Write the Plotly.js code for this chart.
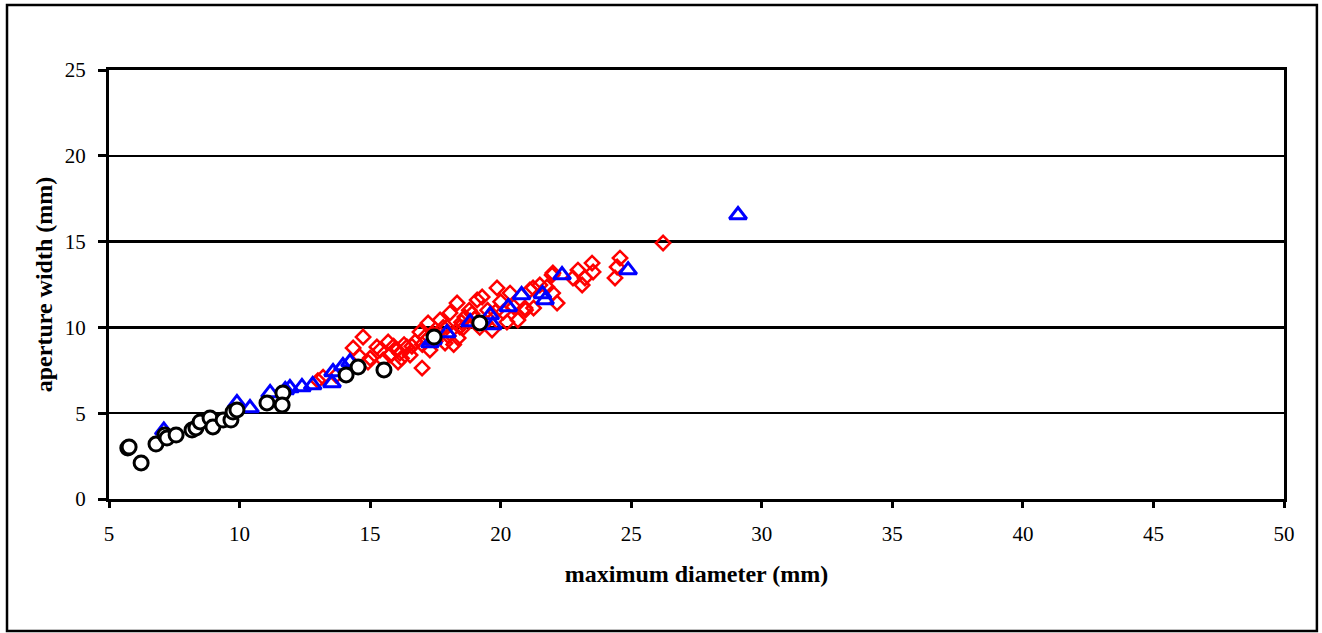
<!DOCTYPE html>
<html>
<head>
<meta charset="utf-8">
<script src="https://cdn.plot.ly/plotly-3.0.1.min.js"></script>
<style>
  html, body { margin: 0; padding: 0; background: #fff; }
  #chart { width: 1322px; height: 633px; }
</style>
</head>
<body>
<div id="chart"></div>
<script>
// Maximum diameter (mm) vs aperture width (mm), three groups of shells
const diamondX = [13.0, 13.2, 13.7, 14.35, 14.6, 14.73, 14.92, 15.0, 15.26, 15.38, 15.5, 15.69, 15.76, 15.9,
  16.03, 16.14, 16.07, 16.2, 16.3, 16.41, 16.53, 16.6, 16.72, 16.91, 16.99, 17.0, 17.1, 17.22, 17.29, 17.4,
  17.5, 17.68, 17.8, 17.87, 17.94, 18.0, 18.06, 18.2, 18.33, 18.37, 18.44, 18.5, 18.56, 18.63, 18.8, 18.9,
  19.0, 19.1, 19.2, 19.29, 19.4, 19.5, 19.67, 19.8, 19.86, 20.0, 20.1, 20.24, 20.36, 20.5, 20.66, 20.93,
  20.95, 21.12, 21.24, 21.26, 21.5, 21.77, 21.97, 21.99, 22.0, 22.16, 22.77, 22.96, 23.12, 23.23, 23.5,
  23.54, 24.38, 24.46, 24.57, 26.22];
const diamondY = [6.9, 7.1, 7.2, 8.8, 8.3, 9.44, 7.98, 8.2, 8.86, 8.68, 8.1, 9.15, 8.39, 8.9,
  8.68, 8.5, 7.98, 8.2, 9.0, 8.86, 8.39, 8.9, 9.15, 9.73, 7.63, 9.0, 9.44, 10.26, 8.68, 9.6,
  9.2, 10.43, 10.0, 9.09, 10.02, 9.5, 10.84, 9.0, 11.42, 9.38, 10.02, 10.3, 9.97, 10.6, 11.0, 10.8,
  10.5, 11.6, 10.0, 11.77, 10.3, 11.0, 9.85, 10.9, 12.3, 11.5, 10.9, 10.31, 12.0, 11.2, 10.43, 11.13,
  11.01, 12.18, 12.3, 11.13, 12.47, 12.35, 13.05, 12.0, 13.17, 11.42, 12.88, 13.34, 12.47, 12.88, 13.75,
  13.23, 12.88, 13.52, 14.04, 14.92];

const triangleX = [7.1, 9.9, 10.4, 11.17, 11.75, 11.93, 12.39, 12.8, 13.54, 13.58, 13.96, 14.23, 17.29, 17.41,
  17.94, 18.83, 19.6, 19.7, 20.29, 20.8, 21.6, 21.7, 22.35, 24.88, 29.09];
const triangleY = [4.0, 5.6, 5.3, 6.18, 6.35, 6.47, 6.53, 6.64, 6.76, 7.4, 7.75, 7.98, 9.09, 9.27,
  9.67, 10.31, 10.72, 10.14, 11.19, 11.89, 11.95, 11.6, 13.05, 13.34, 16.55];

const circleX = [5.72, 5.77, 6.23, 6.80, 7.14, 7.22, 7.57, 8.18, 8.33, 8.49, 8.87, 8.98, 9.37, 9.67, 9.75, 9.9,
  11.05, 11.66, 11.63, 14.08, 14.54, 15.53, 17.45, 19.2];
const circleY = [2.97, 3.03, 2.10, 3.2, 3.73, 3.55, 3.73, 4.02, 4.14, 4.49, 4.72, 4.20, 4.6, 4.6, 5.07, 5.19,
  5.6, 6.18, 5.48, 7.23, 7.69, 7.52, 9.44, 10.26];

const xTicks = [5, 10, 15, 20, 25, 30, 35, 40, 45, 50];
const yTicks = [0, 5, 10, 15, 20, 25];

const traces = [
  {
    x: diamondX, y: diamondY, type: 'scatter', mode: 'markers', name: 'diamonds',
    marker: { symbol: 'diamond-open', size: 11, color: '#ff0000', line: { width: 2.5, color: '#ff0000' } }
  },
  {
    x: triangleX, y: triangleY, type: 'scatter', mode: 'markers', name: 'triangles',
    marker: { symbol: 'triangle-up-open', size: 15, color: '#0000ff', line: { width: 3, color: '#0000ff' } }
  },
  {
    x: circleX, y: circleY, type: 'scatter', mode: 'markers', name: 'circles',
    marker: { symbol: 'circle', size: 14, color: '#ffffff', line: { width: 3, color: '#000000' } }
  }
];

const serif = '"Liberation Serif", "Times New Roman", serif';
const axisFont = { family: serif, size: 21, color: '#000' };
const titleFont = { family: serif, size: 24, color: '#000', weight: 'bold' };

const layout = {
  width: 1322, height: 633,
  margin: { l: 109, r: 38, t: 70, b: 134 },
  paper_bgcolor: '#fff', plot_bgcolor: '#fff',
  showlegend: false,
  xaxis: {
    range: [5, 50], tickvals: xTicks, ticktext: xTicks.map(String),
    showgrid: false, zeroline: false,
    showline: true, linecolor: '#000', linewidth: 3, mirror: true,
    ticks: 'outside', ticklen: 6, tickwidth: 3, tickcolor: '#000',
    ticklabelstandoff: 8,
    tickfont: axisFont,
    title: { text: 'maximum diameter (mm)', font: titleFont, standoff: 20 }
  },
  yaxis: {
    range: [0, 25], tickvals: yTicks, ticktext: yTicks.map(String),
    showgrid: true, gridcolor: '#000', gridwidth: 2.5, zeroline: false,
    showline: true, linecolor: '#000', linewidth: 3, mirror: true,
    ticks: 'outside', ticklen: 8, tickwidth: 3, tickcolor: '#000',
    ticklabelstandoff: 8,
    tickfont: axisFont,
    title: { text: 'aperture width (mm)', font: titleFont, standoff: 6 }
  },
  shapes: [{
    type: 'rect', xref: 'paper', yref: 'paper',
    x0: -0.0868, x1: 1.028, y0: -0.3077, y1: 1.1515,
    line: { color: '#000', width: 2.5 }, fillcolor: 'rgba(0,0,0,0)', layer: 'below'
  }]
};

Plotly.newPlot('chart', traces, layout, { displayModeBar: false, staticPlot: true });
</script>
</body>
</html>
